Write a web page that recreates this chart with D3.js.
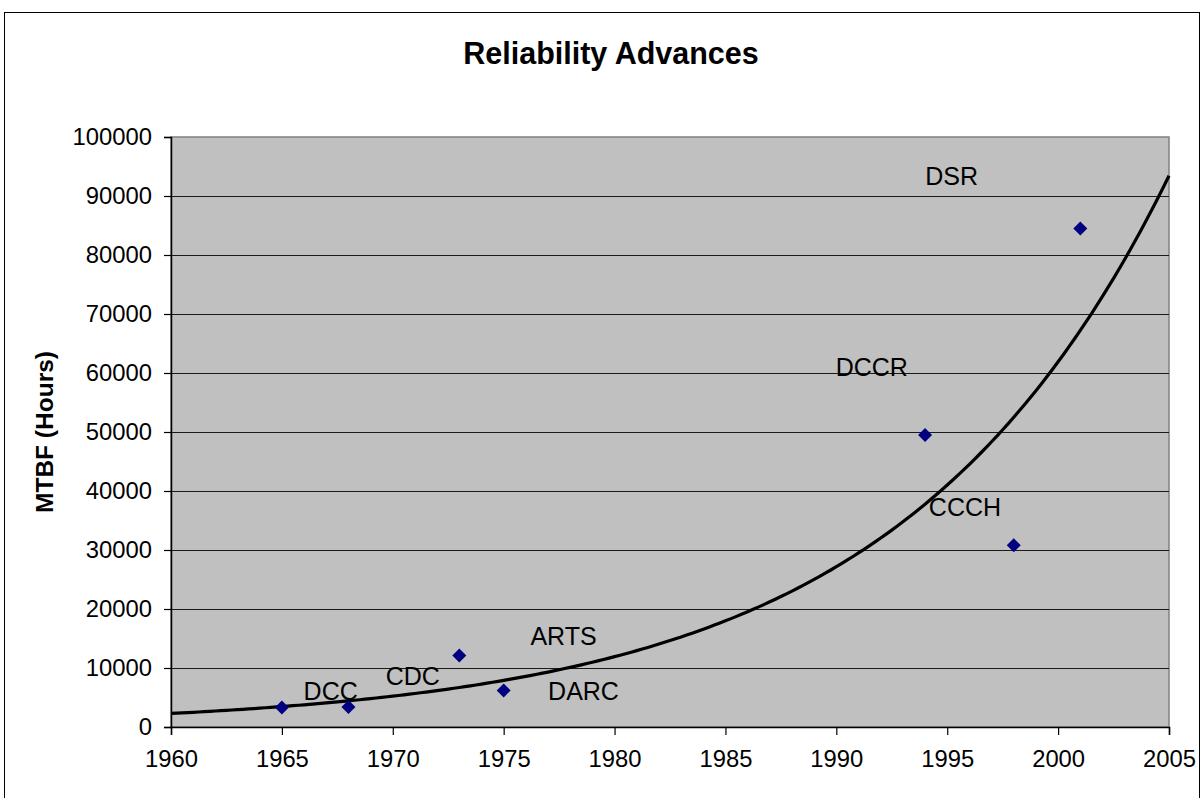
<!DOCTYPE html>
<html><head><meta charset="utf-8">
<script src="https://cdn.jsdelivr.net/npm/d3@7"></script>
<style>body{margin:0;background:#fff}svg{display:block;font-family:"Liberation Sans",Arial,sans-serif}</style>
</head><body><svg id="c" width="1202" height="798"></svg>
<script>
const years = [1965, 1968, 1973, 1975, 1994, 1998, 2001];
const mtbf = [3300, 3400, 12100, 6200, 49500, 30800, 84500];
const labelNames = ["DCC", "CDC", "ARTS", "DARC", "DCCR", "CCCH", "DSR"];
const labelYears = [1967.2, 1970.9, 1977.7, 1978.6, 1991.6, 1995.8, 1995.2];
const labelValues = [6100, 8640, 15420, 6100, 61000, 37290, 93390];
const xTicks = [1960, 1965, 1970, 1975, 1980, 1985, 1990, 1995, 2000, 2005];
const yTicks = [0, 10000, 20000, 30000, 40000, 50000, 60000, 70000, 80000, 90000, 100000];

const svg = d3.select("#c");
const L = 171, R = 1169, T = 137, B = 727;
const x = d3.scaleLinear().domain([1960, 2005]).range([L, R]);
const y = d3.scaleLinear().domain([0, 100000]).range([B, T]);

// outer border
svg.append("rect").attr("x", 4.5).attr("y", 12.5).attr("width", 1195).attr("height", 800)
  .attr("fill", "none").attr("stroke", "#000").attr("stroke-width", 1);

// plot background
svg.append("rect").attr("x", L).attr("y", T).attr("width", R - L).attr("height", B - T)
  .attr("fill", "#c0c0c0").attr("stroke", "#808080").attr("stroke-width", 1.5);

// gridlines
svg.append("g").selectAll("line").data(yTicks.slice(1, -1)).join("line")
  .attr("x1", L).attr("x2", R).attr("y1", d => Math.round(y(d)) + 0.5).attr("y2", d => Math.round(y(d)) + 0.5)
  .attr("stroke", "#1a1a1a").attr("stroke-width", 1);

// axes
const yAxis = svg.append("g").attr("transform", `translate(${L},0)`)
  .call(d3.axisLeft(y).tickValues(yTicks).tickSize(7).tickPadding(12).tickFormat(d3.format("d")));
const xAxis = svg.append("g").attr("transform", `translate(0,${B})`)
  .call(d3.axisBottom(x).tickValues(xTicks).tickSize(8).tickPadding(15).tickFormat(d3.format("d")));
[yAxis, xAxis].forEach(g => {
  g.select(".domain").attr("stroke", "#000").attr("stroke-width", 1.5);
  g.selectAll(".tick line").attr("stroke", "#000").attr("stroke-width", 1.2);
  g.selectAll("text").attr("font-size", 23.8).attr("fill", "#000").attr("font-family", "Liberation Sans, Arial, sans-serif");
});

// exponential trendline (least squares on ln y)
const xs = years.map(v => v - 1960), ls = mtbf.map(v => Math.log(v));
const mx = d3.mean(xs), ml = d3.mean(ls);
const b = d3.sum(xs.map((v, i) => (v - mx) * (ls[i] - ml))) / d3.sum(xs.map(v => (v - mx) ** 2));
const a = Math.exp(ml - b * mx);
const trendYears = d3.range(1960, 2005.01, 0.25);
svg.append("path").datum(trendYears)
  .attr("d", d3.line().x(d => x(d)).y(d => y(a * Math.exp(b * (d - 1960)))))
  .attr("fill", "none").attr("stroke", "#000").attr("stroke-width", 3.2);

// markers
svg.append("g").selectAll("path").data(years).join("path")
  .attr("transform", (d, i) => `translate(${x(d)},${y(mtbf[i])})`)
  .attr("d", "M0,-7L7,0L0,7L-7,0Z").attr("fill", "#000080");

// labels
svg.append("g").selectAll("text").data(labelNames).join("text")
  .attr("x", (d, i) => x(labelYears[i])).attr("y", (d, i) => y(labelValues[i]))
  .attr("text-anchor", "middle").attr("dominant-baseline", "central")
  .attr("font-size", 25).attr("fill", "#000").text(d => d);

// title
svg.append("text").attr("x", 611).attr("y", 64).attr("text-anchor", "middle")
  .attr("font-size", 30.5).attr("font-weight", "bold").text("Reliability Advances");

// y-axis title
svg.append("text").attr("transform", `translate(53,${(T + B) / 2}) rotate(-90)`)
  .attr("text-anchor", "middle").attr("font-size", 24.5).attr("font-weight", "bold").text("MTBF (Hours)");
</script></body></html>
